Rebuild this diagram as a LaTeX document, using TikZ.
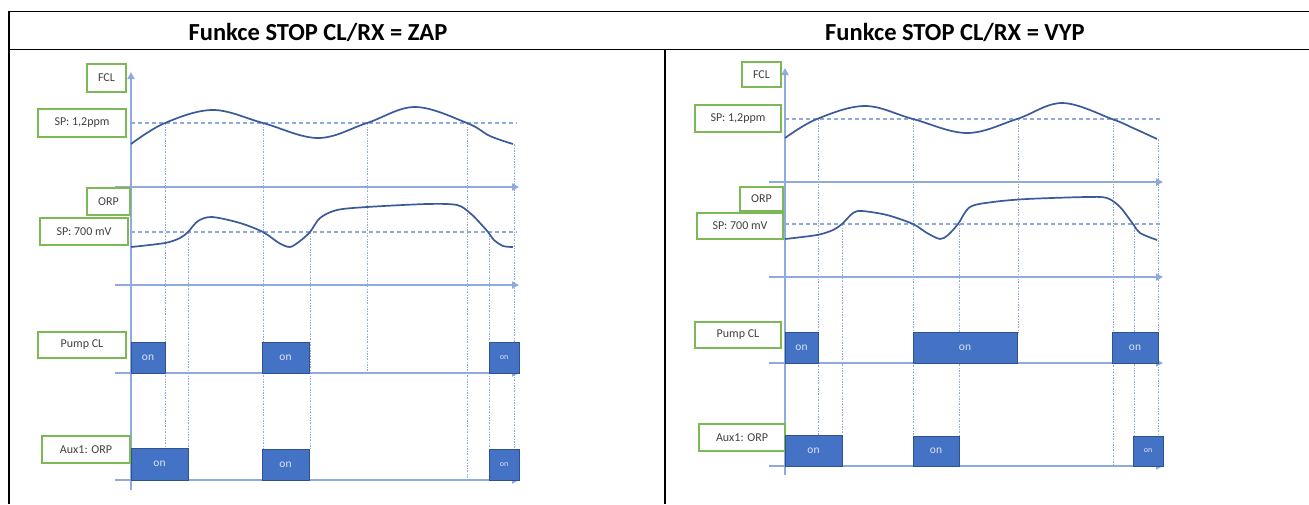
\documentclass[tikz,border=0pt]{standalone}
\usepackage{fontspec}
\setmainfont{Carlito}
\usetikzlibrary{arrows.meta}
\definecolor{axisc}{HTML}{8FAADC}
\definecolor{curvec}{HTML}{3B5A9A}
\definecolor{grnc}{HTML}{7DB856}
\definecolor{onfill}{HTML}{4472C4}
\definecolor{onedge}{HTML}{2F528F}
\definecolor{txtc}{HTML}{404040}
\definecolor{ontxt}{HTML}{DCE4F4}
\newcommand\mkbox[7]{%
  \node[#1, minimum width={(#5)-(#3)}, minimum height={(#6)-(#4)}] (#2) at ({((#3)+(#5))/2},{((#4)+(#6))/2}) {#7};}
\tikzset{
  lbl/.style={draw=grnc, line width=1.4pt, fill=white, inner sep=0pt, text=txtc, font=\fontsize{12}{13}\selectfont},
  onbox/.style={draw=onedge, line width=0.9pt, fill=onfill, inner sep=0pt, text=ontxt, font=\fontsize{11.5}{12}\selectfont},
  onsmall/.style={onbox, font=\fontsize{8}{9}\selectfont},
  axisline/.style={draw=axisc, line width=1.7pt, -{Triangle[width=7pt,length=7pt]}},
  spline/.style={draw=axisc, line width=1.1pt, dash pattern=on 4pt off 3pt},
  vline/.style={draw=axisc, line width=0.9pt, dash pattern=on 2pt off 1.5pt on 0.6pt off 1.5pt},
  curve/.style={draw=curvec, line width=1.7pt},
  title/.style={font=\fontsize{24.5}{27}\selectfont\bfseries, text=black, inner sep=0pt},
  frame/.style={draw=black, line width=1.6pt}
}
\begin{document}
\begin{tikzpicture}[x=1pt,y=-1pt]
\useasboundingbox (0,0) rectangle (1309,504);
% table frame
\draw[frame] (8,11.5) -- (1309,11.5);
\draw[frame] (8,49.5) -- (1309,49.5);
\draw[draw=black, line width=2.6pt] (9,10.5) -- (9,504);
\draw[frame] (665,49.5) -- (665,504);
\node[title] (t1) at (318,32) {Funkce STOP CL/RX = ZAP};
\node[title] (t2) at (955,32) {Funkce STOP CL/RX = VYP};

% ================= LEFT PANEL =================
% vertical dotted guides
\draw[vline] (165,123) -- (165,448);
\draw[vline] (188,232) -- (188,448);
\draw[vline] (263,123) -- (263,449);
\draw[vline] (310,232) -- (310,449);
\draw[vline] (367,123) -- (367,373);
\draw[vline] (467,123) -- (467,480);
\draw[vline] (489,232) -- (489,448);
\draw[vline] (514,144) -- (514,448);
% setpoint lines
\draw[spline] (131,123) -- (517,123);
\draw[spline] (131,232) -- (517,232);
% axes
\draw[axisline] (131,490) -- (131,72);
\draw[axisline] (115,187) -- (519,187);
\draw[axisline] (115,285) -- (519,285);
\draw[axisline] (115,373) -- (519,373);
\draw[axisline] (115,480) -- (519,480);
% curves
\draw[curve] plot[smooth, tension=0.6] coordinates {(131,144) (165,123) (213,110) (263,123) (318,138) (367,123) (415,107) (467,123) (490,136) (513,144)};
\draw[curve] plot[smooth, tension=0.5] coordinates {(131,247) (165,243) (180,238) (188,232) (198,221) (212,217) (240,223) (263,232) (279,243) (290,247) (300,241) (310,232) (320,218) (337,210) (367,207) (427,204) (457,205) (470,213) (480,223) (488,232) (494,240) (503,246) (513,247)};
% labels
\mkbox{lbl}{fclA}{87}{64}{126}{92}{FCL}
\mkbox{lbl}{spA}{38}{109}{126}{137}{SP: 1,2ppm}
\mkbox{lbl}{orpA}{87}{188}{130}{215}{ORP}
\mkbox{lbl}{spoA}{40}{218}{128}{245}{SP: 700 mV}
\mkbox{lbl}{pumpA}{38}{332}{126}{358}{Pump CL}
\mkbox{lbl}{auxA}{42}{436}{130}{463}{Aux1: ORP}
% on boxes
\mkbox{onbox}{pA1}{131}{342}{165}{373}{on}
\mkbox{onbox}{pA2}{262}{342}{309}{373}{on}
\mkbox{onsmall}{pA3}{489}{342}{519}{373}{on}
\mkbox{onbox}{aA1}{131}{448}{188}{480}{on}
\mkbox{onbox}{aA2}{262}{449}{309}{480}{on}
\mkbox{onsmall}{aA3}{489}{449}{519}{480}{on}

% ================= RIGHT PANEL =================
\draw[vline] (818,119) -- (818,435);
\draw[vline] (842,224) -- (842,435);
\draw[vline] (913,119) -- (913,436);
\draw[vline] (959,224) -- (959,436);
\draw[vline] (1018,119) -- (1018,332);
\draw[vline] (1113,119) -- (1113,466);
\draw[vline] (1134,224) -- (1134,436);
\draw[vline] (1158,139) -- (1158,436);
\draw[spline] (785,119) -- (1162,119);
\draw[spline] (785,224) -- (1162,224);
\draw[axisline] (785,475) -- (785,68);
\draw[axisline] (769,182) -- (1163,182);
\draw[axisline] (769,277) -- (1163,277);
\draw[axisline] (769,363) -- (1163,363);
\draw[axisline] (769,466) -- (1163,466);
\draw[curve] plot[smooth, tension=0.6] coordinates {(785,138) (817,119) (865,106) (913,119) (967,133) (1017,119) (1062,103) (1112,119) (1133,128) (1157,139)};
\draw[curve] plot[smooth, tension=0.5] coordinates {(785,239) (817,235) (833,230) (842,224) (853,213) (862,211) (887,215) (913,224) (927,233) (940,239) (948,235) (958,224) (970,207) (993,202) (1027,199) (1087,197) (1107,198) (1120,207) (1133,224) (1140,233) (1157,240)};
\mkbox{lbl}{fclB}{742}{62}{781}{87}{FCL}
\mkbox{lbl}{spB}{695}{105}{781}{132}{SP: 1,2ppm}
\mkbox{lbl}{orpB}{740}{187}{783}{211}{ORP}
\mkbox{lbl}{spoB}{697}{213}{783}{239}{SP: 700 mV}
\mkbox{lbl}{pumpB}{695}{322}{781}{348}{Pump CL}
\mkbox{lbl}{auxB}{699}{424}{785}{451}{Aux1: ORP}
\mkbox{onbox}{pB1}{785}{332}{818}{363}{on}
\mkbox{onbox}{pB2}{913}{332}{1017}{363}{on}
\mkbox{onbox}{pB3}{1112}{332}{1158}{363}{on}
\mkbox{onbox}{aB1}{785}{435}{842}{466}{on}
\mkbox{onbox}{aB2}{913}{436}{959}{466}{on}
\mkbox{onsmall}{aB3}{1133}{436}{1163}{466}{on}
\end{tikzpicture}
\end{document}
